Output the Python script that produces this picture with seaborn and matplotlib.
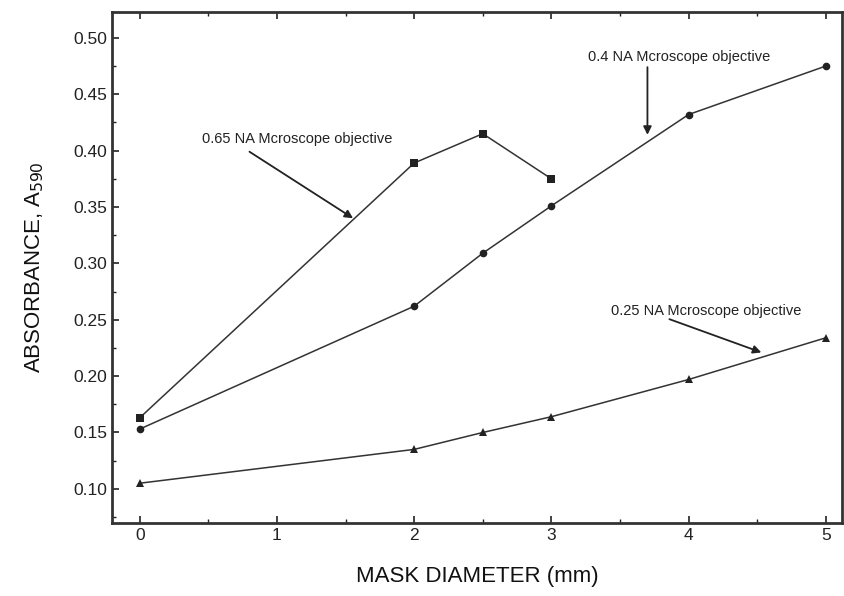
import pandas as pd
import seaborn as sns
import matplotlib.pyplot as plt
from matplotlib.ticker import MultipleLocator

# data
diam_065 = [0, 2, 2.5, 3]
abs_065 = [0.163, 0.389, 0.415, 0.375]

diam_04 = [0, 2, 2.5, 3, 4, 5]
abs_04 = [0.153, 0.262, 0.309, 0.351, 0.432, 0.475]

diam_025 = [0, 2, 2.5, 3, 4, 5]
abs_025 = [0.105, 0.135, 0.150, 0.164, 0.197, 0.234]

labels = ["0.65 NA Mcroscope objective", "0.4 NA Mcroscope objective", "0.25 NA Mcroscope objective"]
markers = ["s", "o", "^"]

sns.set_style("ticks")
plt.rcParams["font.family"] = ["Liberation Sans", "DejaVu Sans"]

fig = plt.figure(figsize=(8.44, 5.96), dpi=100)
ax = fig.add_axes([0.133, 0.123, 0.865, 0.857])

series = [(diam_065, abs_065), (diam_04, abs_04), (diam_025, abs_025)]
for (x, y), m in zip(series, markers):
    df = pd.DataFrame({"x": x, "y": y})
    sns.lineplot(data=df, x="x", y="y", ax=ax, color="#333333", linewidth=1.1,
                 marker=m, markersize=5.5, markeredgewidth=0, markerfacecolor="#222222")

ax.set_xlim(-0.2, 5.12)
ax.set_ylim(0.07, 0.523)
ax.xaxis.set_major_locator(MultipleLocator(1))
ax.xaxis.set_minor_locator(MultipleLocator(0.5))
ax.yaxis.set_major_locator(MultipleLocator(0.05))
ax.yaxis.set_minor_locator(MultipleLocator(0.025))
ax.yaxis.set_major_formatter(plt.FormatStrFormatter("%.2f"))
ax.tick_params(which="both", direction="in", top=True, right=False, labelsize=12.5, colors="#222222")
ax.tick_params(which="major", length=5, width=1.2)
ax.tick_params(which="minor", length=3, width=1)
for s in ax.spines.values():
    s.set_linewidth(2)
    s.set_color("#333333")

ax.set_xlabel("MASK DIAMETER (mm)", fontsize=16, labelpad=17, color="#111111")
ax.set_ylabel("ABSORBANCE, A$_{590}$", fontsize=16, labelpad=20, color="#111111")

# annotation texts
ax.text(1.148, 0.410, labels[0], fontsize=10.5, ha="center", va="center", color="#222222")
ax.text(3.93, 0.483, labels[1], fontsize=10.5, ha="center", va="center", color="#222222")
ax.text(4.13, 0.258, labels[2], fontsize=10.5, ha="center", va="center", color="#222222")

# arrows drawn separately so they start where the reference's do
arrow = dict(arrowstyle="-|>", color="#222222", lw=1.3, mutation_scale=12, shrinkA=0, shrinkB=0)
ax.annotate("", xy=(1.555, 0.340), xytext=(0.80, 0.399), arrowprops=arrow)
ax.annotate("", xy=(3.70, 0.414), xytext=(3.70, 0.474), arrowprops=arrow)
ax.annotate("", xy=(4.53, 0.221), xytext=(3.86, 0.2505), arrowprops=arrow)

fig.savefig("out.png", dpi=100)
